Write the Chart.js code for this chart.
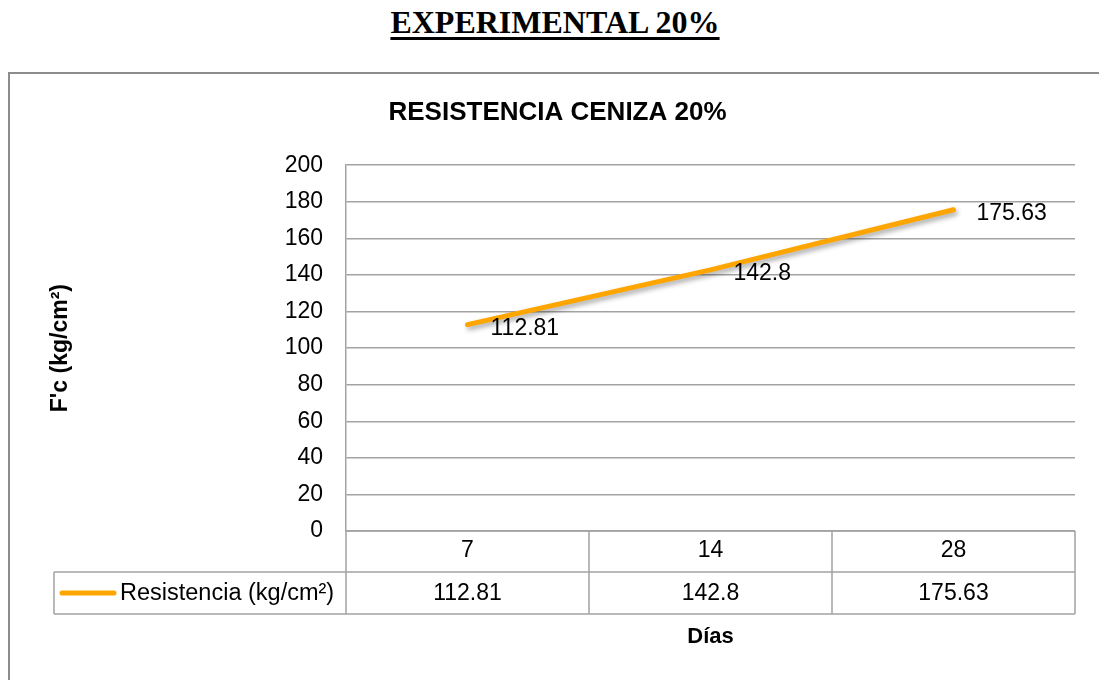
<!DOCTYPE html>
<html lang="es">
<head>
<meta charset="utf-8">
<title>Resistencia ceniza 20%</title>
<script src="https://cdn.jsdelivr.net/npm/chart.js@4.4.1/dist/chart.umd.min.js"></script>
<style>
  html, body { margin: 0; padding: 0; background: #fff; overflow: hidden; }
  body { width: 1099px; height: 680px; position: relative; }
  #tituloPagina {
    position: absolute; left: 0; top: 3px; width: 1110px;
    text-align: center;
    font: bold 32px "Liberation Serif", "Times New Roman", serif;
    line-height: 38px;
    color: #000;
    text-decoration: underline;
    text-decoration-thickness: 3px;
    text-underline-offset: 4px;
  }
  #marco {
    position: absolute; left: 8px; top: 72px; width: 1200px; height: 700px;
    border: 2px solid #8c8c8c; box-sizing: border-box;
  }
  #grafico { position: absolute; left: 0; top: 0; }
</style>
</head>
<body>
<div id="tituloPagina">EXPERIMENTAL 20%</div>
<div id="marco"></div>
<canvas id="grafico" width="1099" height="680"></canvas>

<script>
// =====================
// DATOS
// =====================
const dias = ['7', '14', '28'];                 // categorías (eje X)
const resistencia = [112.81, 142.8, 175.63];    // kg/cm²
const etiquetaSerie = 'Resistencia (kg/cm²)';
const yMin = 0, yMax = 200, yPaso = 20;

// =====================
// ESTILO
// =====================
const NARANJA = '#FFA500';
const GRIS = '#A3A3A3';
const FUENTE = '"Liberation Sans", Arial, sans-serif';

Chart.defaults.font.family = FUENTE;
Chart.defaults.color = '#000';

// sombra de la línea (como en Excel)
const sombraLinea = {
  id: 'sombraLinea',
  beforeDatasetsDraw(chart) {
    const ctx = chart.ctx;
    ctx.save();
    ctx.shadowColor = 'rgba(0,0,0,0.35)';
    ctx.shadowBlur = 5;
    ctx.shadowOffsetX = 2;
    ctx.shadowOffsetY = 3;
  },
  afterDatasetsDraw(chart) {
    chart.ctx.restore();
  }
};

// etiquetas de valor a la derecha de cada punto
const etiquetasValor = {
  id: 'etiquetasValor',
  afterDatasetsDraw(chart) {
    const ctx = chart.ctx;
    const meta = chart.getDatasetMeta(0);
    ctx.save();
    ctx.font = '23px ' + FUENTE;
    ctx.fillStyle = '#000';
    ctx.textAlign = 'left';
    ctx.textBaseline = 'middle';
    meta.data.forEach((p, i) => {
      ctx.fillText(String(resistencia[i]), p.x + 23, p.y + 4);
    });
    ctx.restore();
  }
};

// tabla de datos bajo el gráfico (fila de valores + leyenda) y título "Días"
const tablaDatos = {
  id: 'tablaDatos',
  afterDraw(chart) {
    const { ctx, chartArea, scales: { x } } = chart;
    const fila1 = chartArea.bottom;
    const fila2 = x.bottom;
    const fila3 = fila2 + 42;
    const izq = 54;

    // bordes de las celdas
    const bordes = [];
    for (let i = 0; i < dias.length - 1; i++) {
      bordes.push((x.getPixelForValue(i) + x.getPixelForValue(i + 1)) / 2);
    }
    bordes.push(x.right);

    ctx.save();
    ctx.strokeStyle = GRIS;
    ctx.lineWidth = 1.5;
    ctx.beginPath();
    ctx.moveTo(x.left, fila1); ctx.lineTo(x.right, fila1);
    ctx.moveTo(izq, fila2); ctx.lineTo(x.right, fila2);
    ctx.moveTo(izq, fila3); ctx.lineTo(x.right, fila3);
    ctx.moveTo(izq, fila2); ctx.lineTo(izq, fila3);
    ctx.moveTo(x.left, fila1); ctx.lineTo(x.left, fila3);
    bordes.forEach(b => { ctx.moveTo(b, fila1); ctx.lineTo(b, fila3); });
    ctx.stroke();

    // muestra de leyenda
    const yMedio = (fila2 + fila3) / 2;
    ctx.strokeStyle = NARANJA;
    ctx.lineWidth = 5;
    ctx.lineCap = 'round';
    ctx.beginPath();
    ctx.moveTo(62, yMedio);
    ctx.lineTo(114, yMedio);
    ctx.stroke();

    ctx.font = '23.5px ' + FUENTE;
    ctx.fillStyle = '#000';
    ctx.textBaseline = 'middle';
    ctx.textAlign = 'left';
    ctx.fillText(etiquetaSerie, 120, yMedio + 1);

    // valores
    ctx.font = '23px ' + FUENTE;
    ctx.textAlign = 'center';
    resistencia.forEach((v, i) => {
      ctx.fillText(String(v), x.getPixelForValue(i), yMedio + 1);
    });

    // título eje X
    ctx.font = 'bold 22px ' + FUENTE;
    ctx.fillText('Días', (x.left + x.right) / 2, fila3 + 23);
    ctx.restore();
  }
};

// =====================
// GRÁFICO
// =====================
new Chart(document.getElementById('grafico'), {
  type: 'line',
  data: {
    labels: dias,
    datasets: [{
      label: etiquetaSerie,
      data: resistencia,
      borderColor: NARANJA,
      backgroundColor: NARANJA,
      borderWidth: 5,
      borderCapStyle: 'round',
      pointRadius: 0,
      tension: 0
    }]
  },
  options: {
    responsive: false,
    animation: false,
    layout: { padding: { left: 40, right: 24, top: 0, bottom: 108 } },
    plugins: {
      legend: { display: false },
      tooltip: { enabled: false },
      title: {
        display: true,
        text: 'RESISTENCIA CENIZA 20%',
        color: '#000',
        font: { size: 26, weight: 'bold' },
        padding: { top: 97, bottom: 37 }
      }
    },
    scales: {
      x: {
        offset: true,
        grid: { display: false, drawTicks: false },
        border: { display: false },
        ticks: { font: { size: 23 }, color: '#000', padding: 6, maxRotation: 0 },
        afterFit(scale) { scale.height = 41; }
      },
      y: {
        min: yMin,
        max: yMax,
        ticks: { stepSize: yPaso, font: { size: 23 }, color: '#000', padding: 23 },
        grid: { color: GRIS, lineWidth: 1.5, drawTicks: false },
        border: { display: true, color: GRIS, width: 1.5 },
        title: {
          display: true,
          text: "F'c (kg/cm²)",
          color: '#000',
          font: { size: 23, weight: 'bold' },
          padding: { top: 7, bottom: 0 }
        },
        afterFit(scale) { scale.width = 306; }
      }
    }
  },
  plugins: [sombraLinea, etiquetasValor, tablaDatos]
});
</script>
</body>
</html>
